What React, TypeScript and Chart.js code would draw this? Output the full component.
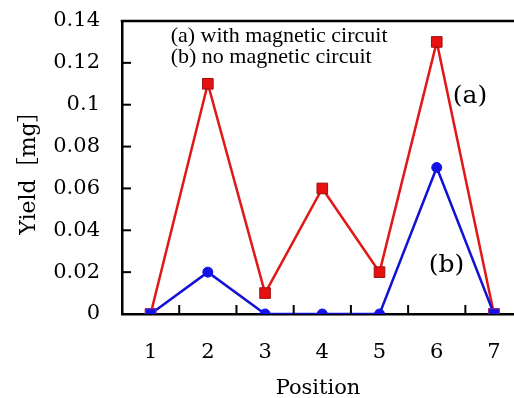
import React, { useEffect, useRef } from 'react';
import { Chart, registerables } from 'chart.js';

Chart.register(...registerables);

const positions = [1, 2, 3, 4, 5, 6, 7];
const withCircuit = [0, 0.11, 0.01, 0.06, 0.02, 0.13, 0];
const noCircuit = [0, 0.02, 0, 0, 0, 0.07, 0];
const yTickValues = [0, 0.02, 0.04, 0.06, 0.08, 0.1, 0.12, 0.14];
const yInnerTicks = [0.02, 0.04, 0.06, 0.08, 0.1, 0.12];
const xInnerTicks = [1.5, 2.5, 3.5, 4.5, 5.5, 6.5];
const legendLines = ['(a) with magnetic circuit', '(b) no magnetic circuit'];
const seriesLabels = ['(a)', '(b)'];

const SERIF = '"DejaVu Serif", "Liberation Serif", serif';

const decorPlugin = {
  id: 'decor',
  afterDraw(chart: any) {
    const { ctx, chartArea } = chart;
    const xs = chart.scales.x;
    const ys = chart.scales.y;
    ctx.save();
    ctx.strokeStyle = '#000';
    ctx.lineWidth = 2.5;
    // top frame line
    ctx.beginPath();
    ctx.moveTo(chartArea.left - 1.25, chartArea.top);
    ctx.lineTo(chart.width, chartArea.top);
    ctx.stroke();
    // inward ticks
    ctx.lineWidth = 2;
    for (const v of xInnerTicks) {
      const px = xs.getPixelForValue(v);
      ctx.beginPath();
      ctx.moveTo(px, chartArea.bottom);
      ctx.lineTo(px, chartArea.bottom - 9);
      ctx.stroke();
    }
    for (const v of yInnerTicks) {
      const py = ys.getPixelForValue(v);
      ctx.beginPath();
      ctx.moveTo(chartArea.left, py);
      ctx.lineTo(chartArea.left + 9, py);
      ctx.stroke();
    }
    // legend text
    ctx.fillStyle = '#000';
    ctx.textBaseline = 'middle';
    ctx.textAlign = 'left';
    ctx.font = '22px "Liberation Serif", serif';
    ctx.fillText(legendLines[0], xs.getPixelForValue(1.35), ys.getPixelForValue(0.1328));
    ctx.fillText(legendLines[1], xs.getPixelForValue(1.35), ys.getPixelForValue(0.1228));
    // series labels
    ctx.textAlign = 'center';
    ctx.font = '25px ' + SERIF;
    ctx.fillText(seriesLabels[0], xs.getPixelForValue(6.58), ys.getPixelForValue(0.104));
    ctx.fillText(seriesLabels[1], xs.getPixelForValue(6.17), ys.getPixelForValue(0.0234));
    ctx.restore();
  },
};

export default function App() {
  const canvasRef = useRef<HTMLCanvasElement | null>(null);

  useEffect(() => {
    const canvas = canvasRef.current;
    if (!canvas) return;
    const chart = new Chart(canvas, {
      type: 'line',
      data: {
        datasets: [
          {
            label: 'no magnetic circuit',
            data: positions.map((p, i) => ({ x: p, y: noCircuit[i] })),
            borderColor: '#1212d6',
            borderWidth: 2.5,
            backgroundColor: '#1212e6',
            pointBackgroundColor: '#1212e6',
            pointBorderColor: positions.map((_, i) => (i === 0 || i === positions.length - 1 ? '#9a2a8a' : '#1212e6')),
            pointBorderWidth: 1,
            pointStyle: positions.map((_, i) => (i === 0 || i === positions.length - 1 ? 'rect' : 'circle')) as any,
            pointRadius: positions.map((_, i) => (i === 0 || i === positions.length - 1 ? 7.5 : 5)),
            tension: 0,
          },
          {
            label: 'with magnetic circuit',
            data: positions.map((p, i) => ({ x: p, y: withCircuit[i] })),
            borderColor: '#e01818',
            borderWidth: 2.5,
            backgroundColor: '#e81010',
            pointBackgroundColor: '#e81010',
            pointBorderColor: '#9a1010',
            pointBorderWidth: 1,
            pointStyle: 'rect',
            pointRadius: 7.5,
            tension: 0,
          },
        ],
      },
      options: {
        animation: false,
        responsive: false,
        maintainAspectRatio: false,
        layout: { autoPadding: false, padding: { top: 21, left: 0, right: 0, bottom: 0 } },
        plugins: {
          legend: { display: false },
          tooltip: { enabled: false },
        },
        scales: {
          x: {
            type: 'linear',
            min: 0.5,
            max: 7.35,
            afterBuildTicks: (s: any) => {
              s.ticks = positions.map((v) => ({ value: v }));
            },
            afterFit: (s: any) => {
              s.height = 84;
              s.paddingLeft = 0;
              s.paddingRight = 0;
            },
            grid: { display: true, drawOnChartArea: false, drawTicks: true, tickLength: 26, color: 'rgba(0,0,0,0)' },
            border: { display: true, color: '#000', width: 2.5 },
            ticks: {
              font: { family: SERIF, size: 21 },
              color: '#000',
              padding: 0,
              callback: (v: any) => String(v),
            },
            title: {
              display: true,
              text: 'Position',
              font: { family: SERIF, size: 21 },
              color: '#000',
              padding: { top: 0, bottom: -3 },
            },
          },
          y: {
            type: 'linear',
            min: 0,
            max: 0.14,
            afterBuildTicks: (s: any) => {
              s.ticks = yTickValues.map((v) => ({ value: v }));
            },
            afterFit: (s: any) => {
              s.width = 122;
              s.paddingTop = 0;
              s.paddingBottom = 0;
            },
            grid: { display: true, drawOnChartArea: false, drawTicks: true, tickLength: 22, color: 'rgba(0,0,0,0)' },
            border: { display: true, color: '#000', width: 2.5 },
            ticks: {
              font: { family: SERIF, size: 21 },
              color: '#000',
              padding: 0,
              callback: (v: any) => String(Math.round(v * 100) / 100),
            },
            title: {
              display: true,
              text: 'Yield［mg］',
              font: { family: '"DejaVu Serif", "Noto Sans CJK JP", serif', size: 22 },
              color: '#000',
              padding: { top: 16, bottom: 0 },
            },
          },
        },
      },
      plugins: [decorPlugin],
    });
    return () => chart.destroy();
  }, []);

  return (
    <div style={{ position: 'fixed', left: 0, top: 0, width: 514, height: 398, background: '#fff' }}>
      <canvas ref={canvasRef} width={514} height={398} style={{ width: 514, height: 398, display: 'block' }} />
    </div>
  );
}
